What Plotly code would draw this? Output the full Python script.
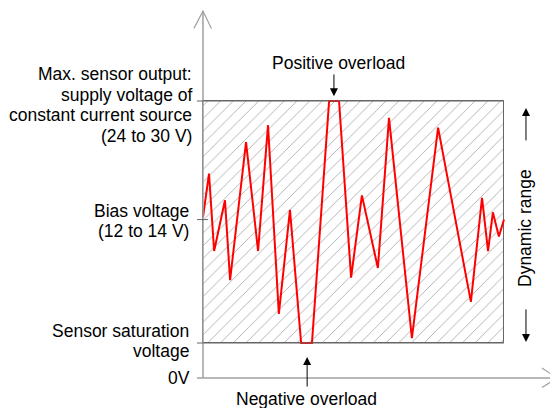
import plotly.graph_objects as go

# ── Data (signal in % of dynamic range, time in arbitrary units) ───────────
time = [0, 2, 3.7, 7.3, 9, 14.3, 18.3, 21.6, 25.2, 28.9, 32.6, 36.2, 41.9,
        45.2, 49.2, 52.8, 58.1, 61.8, 69.4, 78.1, 89, 92.7, 94.7, 96.3, 98.3, 100]
signal = [52, 70, 38, 59, 26, 83, 38, 90, 12, 55, 0, 0, 100,
          100, 27, 61, 31, 93, 2, 89, 17, 60, 38, 54, 44, 51]

SAT_LEVEL = 0       # sensor saturation voltage
MAX_LEVEL = 100     # max sensor output
BIAS_LEVEL = 51     # bias voltage
ZERO_V = -14.5      # 0 V line
T_END = 100

# the page body has an 8px margin, so the figure is 8px smaller than the window
OFF = 8
W, H = 558 - OFF, 408 - OFF
X_RANGE = [-64.78, 117.94]
Y_RANGE = [-26.86, 138.43]

FONT = "Arial, Liberation Sans, sans-serif"
AXIS_GRAY = "#a0a0a0"
EDGE_GRAY = "#666666"


def px(x):
    """window pixel x -> paper"""
    return (x - OFF) / W


def py(y):
    """window pixel y -> paper"""
    return 1 - (y - OFF) / H


fig = go.Figure()

# hatched dynamic-range box
fig.add_trace(go.Bar(
    x=[T_END / 2], y=[MAX_LEVEL - SAT_LEVEL], base=[SAT_LEVEL], width=[T_END],
    marker=dict(
        color="white",
        line=dict(color=EDGE_GRAY, width=1),
        pattern=dict(shape="/", fgcolor="#5a5a5a", bgcolor="white",
                     size=9, solidity=0.1),
    ),
    hoverinfo="skip",
))

# signal
fig.add_trace(go.Scatter(
    x=time, y=signal, mode="lines",
    line=dict(color="#ff0000", width=2),
    hoverinfo="skip",
))

shapes = [
    # y axis + open arrow head
    dict(type="line", x0=0, x1=0, y0=ZERO_V, y1=137.2,
         line=dict(color=AXIS_GRAY, width=1.5)),
    dict(type="path", path="M -3,130 L 0,137.2 L 2.8,130",
         line=dict(color=AXIS_GRAY, width=1.2)),
    # x axis + open arrow head
    dict(type="line", x0=-2, x1=117.6, y0=ZERO_V, y1=ZERO_V,
         line=dict(color=AXIS_GRAY, width=1.5)),
    dict(type="path", path=f"M 112.6,-10.3 L 117.6,{ZERO_V} L 112.6,-18.4",
         line=dict(color=AXIS_GRAY, width=1.2)),
    # box edges extended to the left tick
    dict(type="line", x0=-2, x1=T_END, y0=MAX_LEVEL, y1=MAX_LEVEL,
         line=dict(color=EDGE_GRAY, width=1)),
    dict(type="line", x0=-2, x1=T_END, y0=SAT_LEVEL, y1=SAT_LEVEL,
         line=dict(color=EDGE_GRAY, width=1)),
    # bias tick
    dict(type="line", x0=-2, x1=1.7, y0=BIAS_LEVEL, y1=BIAS_LEVEL,
         line=dict(color=EDGE_GRAY, width=1)),
]

annotations = []


def label(text, x, y, anchor="right", size=17.5, angle=0):
    annotations.append(dict(
        text=text, x=px(x), y=py(y), xref="paper", yref="paper",
        xanchor=anchor, yanchor="middle", showarrow=False, textangle=angle,
        font=dict(family=FONT, size=size, color="#000000"),
    ))


label("Max. sensor output:", 194, 74)
label("supply voltage of", 194, 95)
label("constant current source", 194, 115)
label("(24 to 30 V)", 194, 136)
label("Bias voltage", 191, 211)
label("(12 to 14 V)", 191, 231)
label("Sensor saturation", 191, 331)
label("voltage", 191, 351)
label("0V", 192, 378)
label("Positive overload", 338, 63, anchor="center")
label("Negative overload", 307, 399, anchor="center")
label("Dynamic range", 525, 228, anchor="center", angle=-90)


def arrow(x, y_tip, y_tail):
    annotations.append(dict(
        text="", x=x, y=y_tip, ax=x, ay=y_tail, xref="x", yref="y",
        axref="x", ayref="y", showarrow=True, arrowhead=2, arrowsize=1.6,
        arrowwidth=1, arrowcolor="#000000", standoff=0,
    ))


arrow(43.5, 102, 111.6)      # positive overload
arrow(34.6, -5.8, -18.6)     # negative overload
arrow(107.3, 97.1, 83.1)     # dynamic range up
arrow(107.3, 0.4, 14.5)      # dynamic range down

fig.update_layout(
    width=W, height=H,
    margin=dict(l=0, r=0, t=0, b=0),
    paper_bgcolor="white", plot_bgcolor="white",
    showlegend=False,
    xaxis=dict(range=X_RANGE, visible=False, fixedrange=True),
    yaxis=dict(range=Y_RANGE, visible=False, fixedrange=True),
    shapes=shapes,
    annotations=annotations,
    bargap=0,
)

fig.write_html("out.html", config={"displayModeBar": False})
